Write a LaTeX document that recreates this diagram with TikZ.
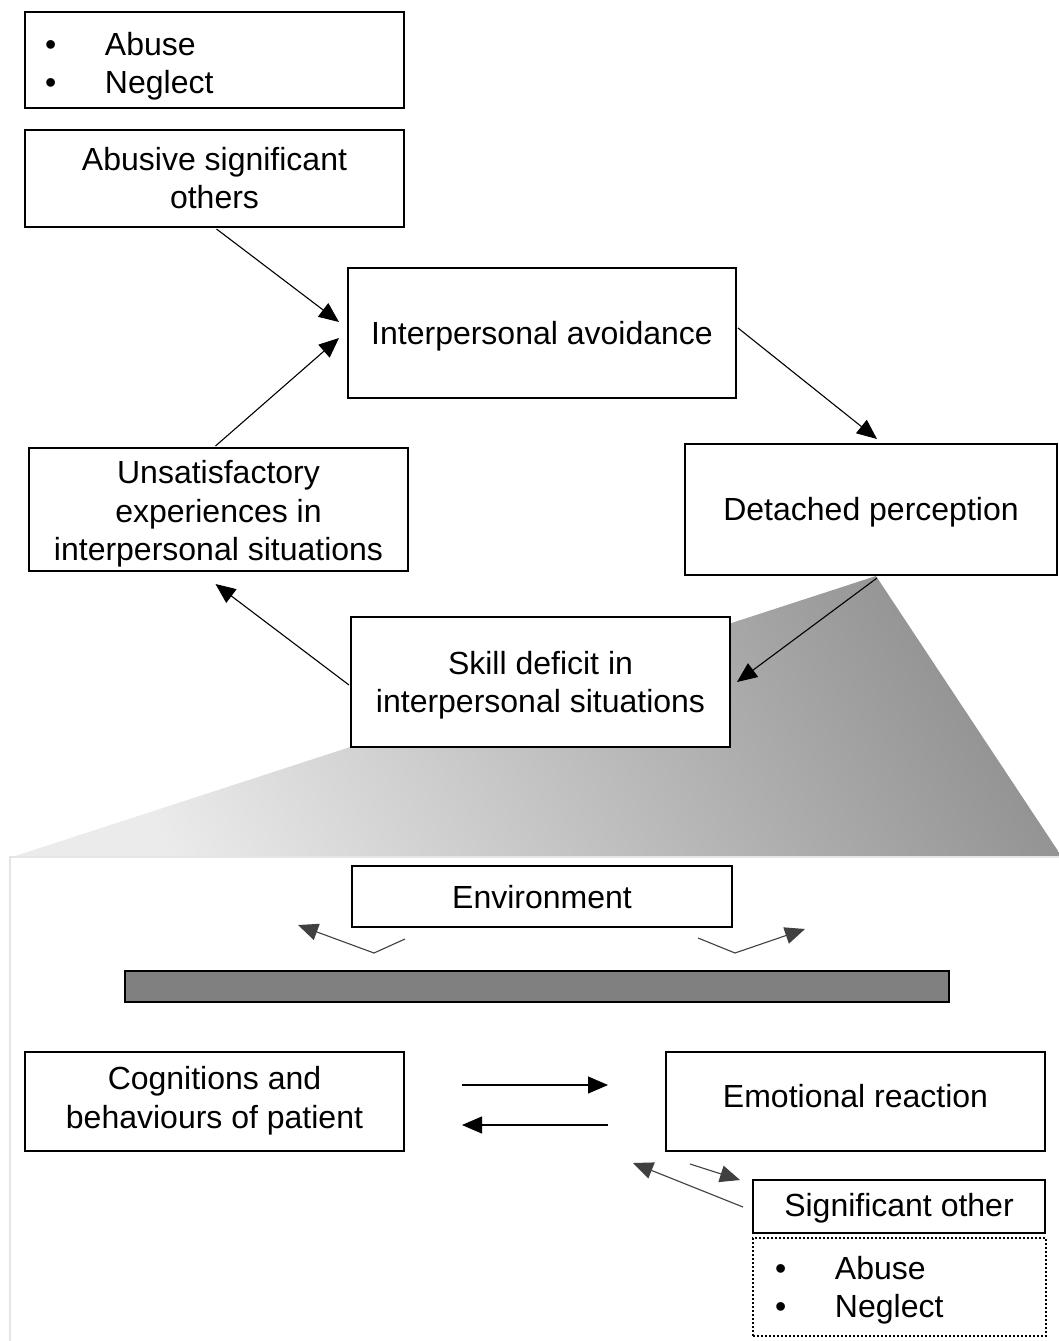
\documentclass[tikz,border=0pt]{standalone}
\usepackage{fontspec}
\setmainfont{Liberation Sans}
\usetikzlibrary{arrows.meta,calc}
\newcommand\tb[2]{\raisebox{#1}[\height][\depth]{\begin{tabular}{@{}c@{}}#2\end{tabular}}}
\newcommand\tbl[3]{\raisebox{#1}[\height][\depth]{\begin{tabular}{@{}p{60pt}@{}p{#2}@{}}#3\end{tabular}}}
\begin{document}
\begin{tikzpicture}[x=1pt,y=-1pt,
  every node/.style={font=\fontsize{32}{38.5}\selectfont},
  box/.style={draw=black,line width=2pt,fill=white,rectangle,inner sep=0pt,align=center},
  arr/.style={line width=1.1pt,-{Triangle[length=20pt 0 0,width=17pt 0 0]}},
  thinline/.style={line width=1.1pt,draw=black!75},
]
\useasboundingbox (0,0) rectangle (1059,1341);
% funnel and panel
\shade[top color=black!42,bottom color=black!8,shading angle=-60] (876,576) -- (1062,857) -- (12,857) -- cycle;
\draw[draw=black!10,line width=2.5pt,fill=white] (10,857) rectangle (1070,1350);
% top part
\node[box,minimum width=379pt,minimum height=96pt,inner xsep=20pt] (top) at (214.5,60)
  {\tbl{-7pt}{279pt}{•&Abuse\\•&Neglect}};
\node[box,minimum width=379pt,minimum height=97pt] (abus) at (214.5,178.5) {\tb{-3.5pt}{Abusive significant\\others}};
\node[box,minimum width=388pt,minimum height=130pt] (inter) at (542,333) {\tb{-3.8pt}{Interpersonal avoidance}};
\node[box,minimum width=372pt,minimum height=131pt] (det) at (871,509.5) {\tb{-3.3pt}{Detached perception}};
\node[box,minimum width=379pt,minimum height=123pt] (unsat) at (218.5,509.5) {\tb{-4.8pt}{Unsatisfactory\\experiences in\\interpersonal situations}};
\node[box,minimum width=379pt,minimum height=130pt] (skill) at (540.5,682) {\tb{-4pt}{Skill deficit in\\interpersonal situations}};
\draw[arr] ($(abus.south)+(2,1)$) -- ($(inter.west)+(-8,-11)$);
\draw[arr] ($(unsat.north)+(-3,-1)$) -- ($(inter.west)+(-8,5)$);
\draw[arr] ($(inter.east)+(1,-5)$) -- ($(det.north)+(6,-4)$);
\draw[arr] ($(det.south)+(6,2)$) -- ($(skill.east)+(6,0)$);
\draw[arr] ($(skill.west)+(-1,3)$) -- ($(unsat.south)+(-3,12)$);
% bottom panel
\node[box,minimum width=380pt,minimum height=61pt] (env) at (542,896.5) {\tb{-4.3pt}{Environment}};
\node[draw=black,line width=2pt,fill=black!50,minimum width=824pt,minimum height=31pt,inner sep=0pt] (bar) at (537,986.5) {};
\coordinate (el1) at ($(env.south)+(-137,11)$);
\coordinate (el2) at ($(env.south)+(-168,25)$);
\coordinate (el3) at ($(env.south)+(-244,-3)$);
\coordinate (er1) at ($(env.south)+(156,10)$);
\coordinate (er2) at ($(env.south)+(193,25)$);
\coordinate (er3) at ($(env.south)+(263,1)$);
\draw[thinline] (el1) -- (el2);
\draw[arr,draw=black!75] (el2) -- (el3);
\draw[thinline] (er1) -- (er2);
\draw[arr,draw=black!75] (er2) -- (er3);
\node[box,minimum width=379pt,minimum height=99pt] (cog) at (214.5,1101.5) {\tb{0pt}{Cognitions and\\behaviours of patient}};
\node[box,minimum width=379pt,minimum height=99pt] (emo) at (855.5,1101.5) {\tb{1.7pt}{Emotional reaction}};
\node[box,minimum width=292pt,minimum height=53pt] (sig) at (899,1206.5) {\tb{-2.3pt}{Significant other}};
\node[draw=black,line width=2pt,dash pattern=on 2pt off 2pt,fill=white,inner sep=0pt,inner xsep=22pt,
  minimum width=293pt,minimum height=98pt] (sigab) at (899.5,1287)
  {\tbl{-4pt}{189pt}{•&Abuse\\•&Neglect}};
\draw[arr] ($(cog.east)+(57,-16.5)$) -- ($(emo.west)+(-57,-16.5)$);
\draw[arr] ($(emo.west)+(-57,23.5)$) -- ($(cog.east)+(57,23.5)$);
\coordinate (s1) at ($(emo.south west)+(25,12)$);
\draw[arr,draw=black!75] (s1) -- ($(sig.west)+(-12,-26.5)$);
\coordinate (s2) at ($(emo.south west)+(-32,11)$);
\draw[arr,draw=black!75] ($(sig.west)+(-9,0.5)$) -- (s2);
\end{tikzpicture}
\end{document}
